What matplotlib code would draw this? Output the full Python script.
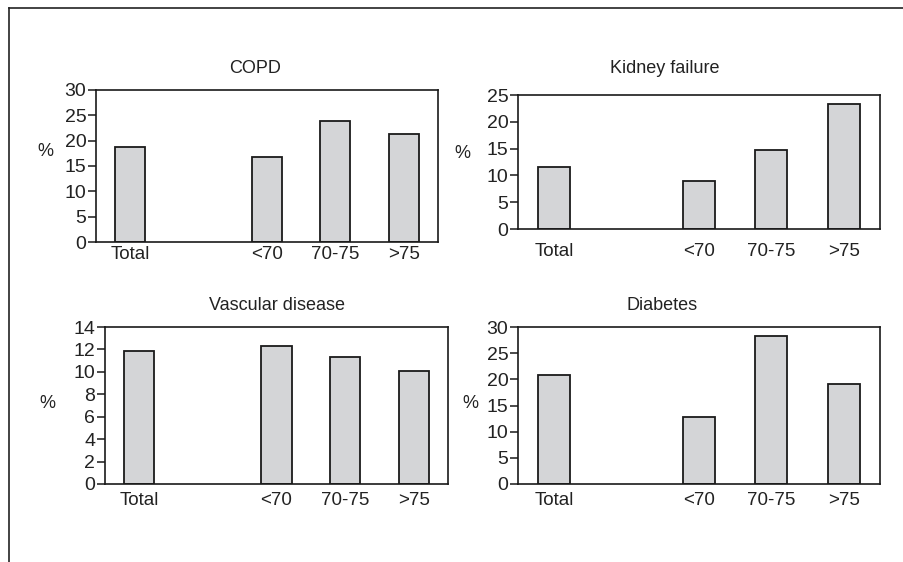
import matplotlib
matplotlib.use("Agg")
import matplotlib.pyplot as plt
from matplotlib.lines import Line2D

# data
groups = ["Total", "<70", "70-75", ">75"]
positions = [0, 2, 3, 4]

copd = [18.8, 16.8, 23.9, 21.3]
kidney = [11.5, 8.9, 14.7, 23.4]
vascular = [11.9, 12.3, 11.3, 10.1]
diabetes = [20.9, 12.8, 28.2, 19.1]

titles = ["COPD", "Kidney failure", "Vascular disease", "Diabetes"]
yticks_copd = [0, 5, 10, 15, 20, 25, 30]
yticks_kidney = [0, 5, 10, 15, 20, 25]
yticks_vascular = [0, 2, 4, 6, 8, 10, 12, 14]
yticks_diabetes = [0, 5, 10, 15, 20, 25, 30]

W, H = 904, 562
plt.rcParams['font.family'] = ['Liberation Sans', 'DejaVu Sans']

fig = plt.figure(figsize=(W / 100, H / 100), dpi=100)

# pixel boxes: left, top, right, bottom ; title xy ; % xy ; xlabel pad
panels = [
    (copd, yticks_copd, (96, 90, 438, 242), (255, 68), (45, 152), 3),
    (kidney, yticks_kidney, (518, 95, 880, 229), (665, 68), (462, 153), 10),
    (vascular, yticks_vascular, (105, 327, 448, 484), (277, 305), (47, 403), 6),
    (diabetes, yticks_diabetes, (518, 327, 880, 484), (662, 305), (470, 403), 6),
]

txt = "#222222"
for (vals, yt, box, tpos, ppos, pad), title in zip(panels, titles):
    l, t, r, b = box
    ax = fig.add_axes([l / W, 1 - b / H, (r - l) / W, (b - t) / H])
    ax.bar(positions, vals, width=0.44, color="#d4d5d7", edgecolor="#1a1a1a", linewidth=1.3)
    ax.set_xlim(-0.5, 4.5)
    ax.set_ylim(0, yt[-1])
    ax.set_yticks(yt)
    ax.set_xticks(positions)
    ax.set_xticklabels(groups)
    ax.tick_params(axis="y", length=6, width=1.1, pad=1, labelsize=14, color="#1a1a1a", labelcolor=txt)
    ax.tick_params(axis="x", length=0, pad=pad, labelsize=13.5, labelcolor=txt)
    for s in ax.spines.values():
        s.set_linewidth(1.2)
        s.set_color("#1a1a1a")
    fig.text(tpos[0] / W, 1 - tpos[1] / H, title, ha="center", va="center", fontsize=13, color=txt)
    fig.text(ppos[0] / W, 1 - ppos[1] / H, "%", ha="center", va="center", fontsize=13, color=txt)

# outer frame (only top and left visible)
fig.add_artist(Line2D([9 / W, 1], [1 - 8 / H, 1 - 8 / H], transform=fig.transFigure, color="#222222", lw=1.2))
fig.add_artist(Line2D([9 / W, 9 / W], [0, 1 - 8 / H], transform=fig.transFigure, color="#222222", lw=1.2))

fig.savefig("out.png", dpi=100)
